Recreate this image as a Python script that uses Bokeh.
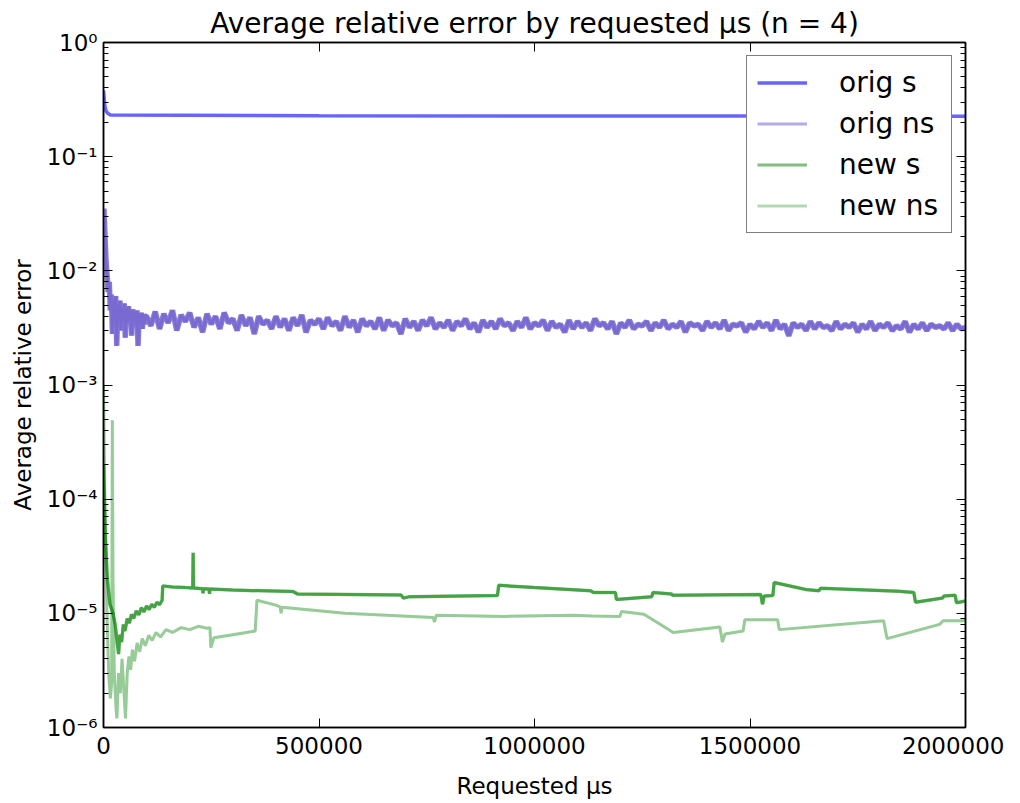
import numpy as np
from bokeh.plotting import figure
from bokeh.models import (Range1d, LinearAxis, LogAxis, FixedTicker, LogTicker,
                          CustomJSTickFormatter, BasicTickFormatter, Legend, LegendItem,
                          ColumnDataSource)
from bokeh.embed import file_html
from bokeh.resources import INLINE

TITLE = "Average relative error by requested μs (n = 4)"
X_LABEL = "Requested μs"
Y_LABEL = "Average relative error"
X_TICKS = [0, 500000, 1000000, 1500000, 2000000]
SERIES_NAMES = ["orig s", "orig ns", "new s", "new ns"]

# orig s : (x, y)
ORIG_S = [(0, 0.38), (1500, 0.33), (3000, 0.28), (6000, 0.25), (10000, 0.24),
          (16000, 0.232), (500000, 0.228), (1000000, 0.227), (1500000, 0.227),
          (2000000, 0.226)]

# orig ns : values in units of 1e-4, early part (x 1000 .. 97500)
ORIG_NS_EARLY = [350, 200, 120, 90, 65, 80, 45, 62, 28, 55,
                 40, 60, 22, 50, 38, 55, 30, 48, 36, 52,
                 26, 47, 35, 49, 38, 45, 27, 46, 36, 44,
                 33, 45, 22, 42, 35, 43, 31, 42, 34, 40]
# orig ns : values in units of 1e-4, late part (x 100000 .. 2000000)
ORIG_NS_LATE = [40, 33, 44, 31, 42, 35, 45, 30, 41, 36,
                43, 32, 39, 29, 42, 34, 40, 31, 43, 35,
                38, 30, 41, 33, 39, 28, 40, 34, 37, 31,
                40, 32, 38, 30, 39, 33, 41, 29, 37, 34,
                38, 31, 39, 33, 36, 30, 40, 32, 37, 29,
                38, 33, 36, 31, 39, 30, 37, 33, 35, 28,
                38, 32, 36, 30, 37, 33, 39, 31, 35, 32,
                37, 30, 36, 33, 38, 31, 35, 29, 37, 32,
                36, 31, 38, 33, 35, 30, 36, 32, 39, 31,
                35, 33, 37, 30, 36, 32, 34, 29, 37, 31,
                36, 32, 35, 30, 38, 33, 35, 31, 36, 28,
                35, 32, 37, 31, 34, 33, 36, 30, 35, 32,
                37, 31, 34, 32, 36, 29, 35, 33, 34, 30,
                36, 32, 35, 31, 37, 30, 34, 33, 35, 29,
                34, 31, 36, 32, 35, 30, 37, 31, 34, 27,
                35, 32, 34, 30, 36, 31, 35, 32, 33, 30,
                36, 31, 34, 32, 35, 29, 34, 31, 36, 30,
                34, 32, 35, 30, 33, 31, 36, 29, 34, 31,
                35, 30, 34, 32, 33, 31, 35, 30, 34, 31, 32]

# new s : (x, y)
NEW_S = [(0, 2.0e-4), (4000, 5.0e-5), (9000, 2.0e-5), (15000, 1.2e-5), (22000, 1.0e-5),
         (27000, 8.0e-6), (32000, 5.5e-6), (35000, 4.4e-6), (38000, 6.5e-6), (42000, 5.6e-6),
         (46000, 8.0e-6), (50000, 7.0e-6), (55000, 9.0e-6), (60000, 8.2e-6), (65000, 9.8e-6),
         (70000, 9.0e-6), (76000, 1.05e-5), (82000, 9.7e-6), (88000, 1.12e-5), (94000, 1.03e-5),
         (100000, 1.16e-5), (106000, 1.08e-5), (112000, 1.20e-5), (118000, 1.13e-5),
         (124000, 1.25e-5), (130000, 1.19e-5), (136000, 1.30e-5), (137500, 1.74e-5),
         (160000, 1.70e-5), (190000, 1.68e-5), (207000, 1.67e-5), (208000, 3.4e-5),
         (209000, 1.67e-5), (230000, 1.64e-5), (231000, 1.50e-5), (232000, 1.64e-5),
         (245000, 1.63e-5), (246000, 1.48e-5), (247000, 1.63e-5), (300000, 1.60e-5),
         (440000, 1.55e-5), (450000, 1.48e-5), (690000, 1.45e-5), (696000, 1.36e-5),
         (710000, 1.40e-5), (914000, 1.43e-5), (917000, 1.76e-5), (1000000, 1.68e-5),
         (1130000, 1.58e-5), (1137000, 1.52e-5), (1188000, 1.52e-5), (1190000, 1.32e-5),
         (1272000, 1.40e-5), (1275000, 1.52e-5), (1318000, 1.48e-5), (1320000, 1.44e-5),
         (1525000, 1.46e-5), (1529000, 1.20e-5), (1533000, 1.42e-5), (1553000, 1.43e-5),
         (1556000, 1.86e-5), (1629000, 1.62e-5), (1660000, 1.58e-5), (1664000, 1.66e-5),
         (1845000, 1.56e-5), (1880000, 1.52e-5), (1884000, 1.25e-5), (1947000, 1.36e-5),
         (1950000, 1.42e-5), (1976000, 1.44e-5), (1979000, 1.24e-5), (2000000, 1.28e-5)]

# new ns : (x, y)
NEW_NS = [(0, 1.0e-3), (4000, 5e-5), (8000, 1e-5), (12000, 3e-6), (16000, 1.8e-6),
          (19000, 2.5e-6), (20500, 4.9e-4), (22000, 2e-5), (25000, 3e-6), (29000, 1.5e-6),
          (31000, 1.2e-6), (35000, 3e-6), (39000, 2e-6), (43000, 4e-6), (47000, 2.2e-6),
          (51000, 1.2e-6), (55000, 3e-6), (59000, 4.2e-6), (63000, 3.2e-6), (67000, 4.8e-6),
          (72000, 3.8e-6), (78000, 5.5e-6), (84000, 4.6e-6), (90000, 6.0e-6), (97000, 5.2e-6),
          (105000, 6.4e-6), (113000, 5.8e-6), (122000, 6.8e-6), (132000, 6.2e-6),
          (145000, 7.2e-6), (160000, 6.8e-6), (180000, 7.5e-6), (200000, 7.2e-6),
          (220000, 7.7e-6), (240000, 7.4e-6), (247000, 7.5e-6), (249000, 5.0e-6),
          (256000, 6.1e-6), (300000, 6.5e-6), (352000, 7.0e-6), (356000, 1.3e-5),
          (400000, 1.18e-5), (410000, 1.14e-5), (412000, 1.0e-5), (414000, 1.13e-5),
          (560000, 1.0e-5), (765000, 9.2e-6), (768000, 8.4e-6), (772000, 9.6e-6),
          (930000, 9.4e-6), (1090000, 9.6e-6), (1135000, 9.5e-6), (1198000, 9.4e-6),
          (1202000, 1.04e-5), (1254000, 9.8e-6), (1322000, 6.8e-6), (1430000, 7.6e-6),
          (1436000, 5.6e-6), (1442000, 6.6e-6), (1484000, 7.0e-6), (1488000, 8.8e-6),
          (1564000, 8.8e-6), (1568000, 7.2e-6), (1810000, 8.6e-6), (1818000, 6.0e-6),
          (1940000, 8.0e-6), (1948000, 8.6e-6), (2000000, 8.6e-6)]

FONT = "DejaVu Sans"

p = figure(frame_width=862, frame_height=685, y_axis_type="log",
           x_range=Range1d(0, 2000000), y_range=Range1d(1e-6, 1.0),
           output_backend="svg", toolbar_location=None,
           min_border_left=103, min_border_right=39, min_border_top=42, min_border_bottom=74,
           title=TITLE)
p.background_fill_color = "white"
p.border_fill_color = "white"
p.outline_line_color = "black"
p.outline_line_width = 1.5
p.xgrid.grid_line_color = None
p.ygrid.grid_line_color = None

p.title.text_font = FONT
p.title.text_font_size = "28px"
p.title.text_font_style = "normal"
p.title.align = "center"
p.title.text_color = "black"
p.title.standoff = 5

sup = CustomJSTickFormatter(code="""
const sup = {"-": "\u207b", "0": "\u2070", "1": "\u00b9", "2": "\u00b2", "3": "\u00b3",
             "4": "\u2074", "5": "\u2075", "6": "\u2076", "7": "\u2077", "8": "\u2078", "9": "\u2079"};
const e = Math.round(Math.log10(tick));
return "10" + String(e).split("").map(c => sup[c]).join("");
""")
blank = CustomJSTickFormatter(code="return '';")

def style_axis(ax, labels=True):
    ax.axis_line_color = "black"
    ax.axis_line_width = 1.5
    ax.major_tick_in = 9
    ax.major_tick_out = 0
    ax.minor_tick_in = 5
    ax.minor_tick_out = 0
    ax.major_tick_line_color = "black"
    ax.minor_tick_line_color = "black"
    ax.major_label_text_font = FONT
    ax.major_label_text_font_size = "23px" if labels else "0px"
    ax.major_label_text_color = "black"
    ax.axis_label_text_font = FONT
    ax.axis_label_text_font_size = "23px"
    ax.axis_label_text_font_style = "normal"
    ax.axis_label_text_color = "black"

xa = p.xaxis[0]
xa.ticker = FixedTicker(ticks=X_TICKS)
xa.formatter = BasicTickFormatter(use_scientific=False)
style_axis(xa)
xa.minor_tick_line_color = None
xa.major_label_standoff = 9
xa.axis_label = X_LABEL
xa.axis_label_standoff = 16

ya = p.yaxis[0]
ya.ticker = LogTicker(num_minor_ticks=10)
ya.formatter = sup
style_axis(ya)
ya.major_label_standoff = 6
ya.axis_label = Y_LABEL
ya.axis_label_standoff = 8

top = LinearAxis(ticker=FixedTicker(ticks=X_TICKS), formatter=blank)
style_axis(top, labels=False)
top.minor_tick_line_color = None
top.major_label_standoff = 0
p.add_layout(top, "above")

right = LogAxis(ticker=LogTicker(num_minor_ticks=10), formatter=blank)
style_axis(right, labels=False)
right.major_label_standoff = 0
p.add_layout(right, "right")

# data sources
osx, osy = zip(*ORIG_S)
src_os = ColumnDataSource(dict(x=list(osx), y=list(osy)))

ons_x = np.concatenate([np.linspace(1000, 97500, len(ORIG_NS_EARLY)),
                        np.linspace(100000, 2000000, len(ORIG_NS_LATE))])
ons_y = np.array(ORIG_NS_EARLY + ORIG_NS_LATE) * 1e-4
src_ons = ColumnDataSource(dict(x=ons_x, y=ons_y))

nsx, nsy = zip(*NEW_S)
src_ns = ColumnDataSource(dict(x=list(nsx), y=list(nsy)))

nnx, nny = zip(*NEW_NS)
src_nn = ColumnDataSource(dict(x=list(nnx), y=list(nny)))

# base lines (also used as legend swatches) plus denser overlays
r_os = p.line("x", "y", source=src_os, line_color="blue", line_alpha=0.6, line_width=3.5)
r_ons = p.line("x", "y", source=src_ons, line_color="#6a5acd", line_alpha=0.5, line_width=3)
p.line("x", "y", source=src_ons, line_color="#6a5acd", line_alpha=0.8, line_width=5.5,
       line_join="bevel")
r_ns = p.line("x", "y", source=src_ns, line_color="#008000", line_alpha=0.5, line_width=3)
p.line("x", "y", source=src_ns, line_color="#008000", line_alpha=0.45, line_width=3.5)
r_nn = p.line("x", "y", source=src_nn, line_color="#008000", line_alpha=0.3, line_width=3)
p.line("x", "y", source=src_nn, line_color="#008000", line_alpha=0.15, line_width=3)

items = [LegendItem(label=n, renderers=[r]) for n, r in zip(SERIES_NAMES, [r_os, r_ons, r_ns, r_nn])]

legend = Legend(items=items, location="top_right")
legend.margin = 13
legend.padding = 10
legend.spacing = 8
legend.glyph_width = 50
legend.glyph_height = 33
legend.label_standoff = 32
legend.label_width = 102
legend.label_text_font = FONT
legend.label_text_font_size = "28px"
legend.label_text_color = "black"
legend.border_line_color = "black"
legend.border_line_width = 1.5
legend.background_fill_color = "white"
legend.background_fill_alpha = 1.0
p.add_layout(legend)

open("out.html", "w").write(file_html(p, INLINE))
